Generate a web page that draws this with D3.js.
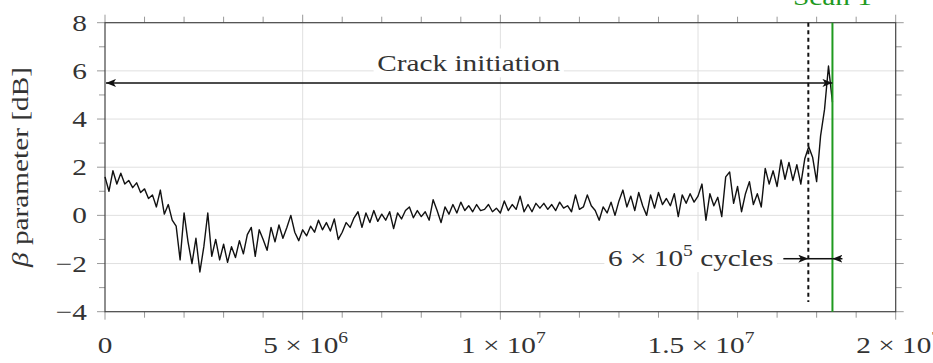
<!DOCTYPE html>
<html>
<head>
<meta charset="utf-8">
<script src="https://cdn.jsdelivr.net/npm/d3@7"></script>
<style>
  body { margin: 0; background: #fff; }
  text { font-family: "Liberation Serif", "DejaVu Serif", serif; fill: #333; }
</style>
</head>
<body>
<svg width="933" height="363"></svg>
<script>
// beta parameter [dB], one reading every 1e5 cycles from 0 to 1.84e7
const step = 1e5;
const betaValues = [
  1.6, 1.0, 1.85, 1.3, 1.75, 1.3, 1.45, 1.15, 1.35, 0.95,
  1.1, 0.7, 0.85, 0.35, 1.05, 0.05, 0.45, -0.2, -0.45, -1.85,
  0.1, -1.1, -2.0, -0.95, -2.35, -1.3, 0.1, -1.7, -1.0, -1.85,
  -1.2, -1.95, -1.3, -1.75, -1.05, -1.6, -0.8, -0.5, -1.7, -0.6,
  -1.0, -1.45, -0.5, -1.1, -0.4, -0.95, -0.5, 0.0, -0.7, -1.05,
  -0.6, -0.85, -0.45, -0.7, -0.2, -0.6, -0.3, -0.65, -0.15, -1.0,
  -0.7, -0.3, -0.5, -0.1, 0.15, -0.5, 0.1, -0.3, 0.2, -0.25,
  0.05, -0.2, 0.15, -0.55, 0.1, -0.15, 0.2, 0.35, -0.1, 0.2,
  -0.05, 0.15, -0.2, 0.65, 0.2, -0.3, 0.35, 0.05, 0.45, 0.1,
  0.55, 0.2, 0.4, 0.15, 0.45, 0.2, 0.25, 0.45, 0.15, 0.3,
  0.1, 0.6, 0.2, 0.45, 0.25, 0.8, 0.15, 0.45, 0.15, 0.5,
  0.3, 0.5, 0.25, 0.45, 0.2, 0.55, 0.3, 0.4, 0.15, 0.85,
  0.25, 0.35, 0.85, 0.4, 0.2, -0.2, 0.35, 0.1, 0.55, 0.0,
  0.6, 1.05, 0.35, 0.8, 0.2, 0.95, 0.4, 0.0, 0.85, 0.3,
  0.95, 0.45, 0.7, 0.4, 0.9, -0.05, 0.85, 0.5, 0.9, 0.55,
  0.8, 1.3, -0.2, 0.9, 0.4, 0.75, -0.05, 1.6, 1.8, 0.5,
  1.2, 0.15, 0.9, 1.4, 0.45, 0.9, 0.35, 1.95, 1.3, 1.85,
  1.2, 2.3, 1.5, 2.2, 1.45, 2.1, 1.3, 2.35, 2.85, 2.4,
  1.4, 3.3, 4.4, 6.2, 4.7
];

const xTicks = [0, 5e6, 1e7, 1.5e7, 2e7];
const xTickLabels = [["0", ""], ["5 \u00d7 10", "6"], ["1 \u00d7 10", "7"], ["1.5 \u00d7 10", "7"], ["2 \u00d7 10", "7"]];
const yTicks = [-4, -2, 0, 2, 4, 6, 8];

const initiationCycle = 1.779e7;   // dashed line
const scanCycle = 1.84e7;          // green line "Scan 1"
const crackArrowBeta = 5.5;
const cyclesArrowBeta = -1.8;

var svg = d3.select("svg");

var x = d3.scaleLinear().domain([0, 2e7]).range([105, 895.7]);
var y = d3.scaleLinear().domain([-4, 8]).range([311.7, 22.7]);

// the LaTeX font is wider than Liberation Serif, so stretch text a bit
var k = 1.22;
function stretch(ax) {
  return "translate(" + ax + ",0) scale(" + k + ",1) translate(" + (-ax) + ",0)";
}

// arrow head
svg.append("defs").append("marker")
    .attr("id", "head")
    .attr("viewBox", "0 0 10 8")
    .attr("refX", 10).attr("refY", 4)
    .attr("markerUnits", "userSpaceOnUse")
    .attr("markerWidth", 10).attr("markerHeight", 8)
    .attr("orient", "auto-start-reverse")
  .append("path")
    .attr("d", "M0,0 L10,4 L0,8 L2.5,4 z")
    .attr("fill", "#111");

// grid
svg.append("g").selectAll("line")
    .data(xTicks.slice(1, -1))
    .enter().append("line")
    .attr("x1", d => x(d)).attr("x2", d => x(d))
    .attr("y1", y(8)).attr("y2", y(-4))
    .attr("stroke", "#e0e0e0");
svg.append("g").selectAll("line")
    .data(yTicks.slice(1, -1))
    .enter().append("line")
    .attr("x1", x(0)).attr("x2", x(2e7))
    .attr("y1", d => y(d)).attr("y2", d => y(d))
    .attr("stroke", "#e0e0e0");

// outward ticks on all four sides
var minorX = d3.range(0, 21).map(d => d * 1e6);
var minorY = d3.range(-4, 9);
var tickColor = "#999";
svg.append("g").selectAll("line").data(minorX).enter().append("line")
    .attr("x1", d => x(d)).attr("x2", d => x(d))
    .attr("y1", y(-4)).attr("y2", d => y(-4) + (d % 5e6 === 0 ? 8 : 6))
    .attr("stroke", tickColor);
svg.append("g").selectAll("line").data(minorX).enter().append("line")
    .attr("x1", d => x(d)).attr("x2", d => x(d))
    .attr("y1", y(8)).attr("y2", d => y(8) - (d % 5e6 === 0 ? 8 : 6))
    .attr("stroke", tickColor);
svg.append("g").selectAll("line").data(minorY).enter().append("line")
    .attr("y1", d => y(d)).attr("y2", d => y(d))
    .attr("x1", x(0)).attr("x2", d => x(0) - (d % 2 === 0 ? 8 : 6))
    .attr("stroke", tickColor);
svg.append("g").selectAll("line").data(minorY).enter().append("line")
    .attr("y1", d => y(d)).attr("y2", d => y(d))
    .attr("x1", x(2e7)).attr("x2", d => x(2e7) + (d % 2 === 0 ? 8 : 6))
    .attr("stroke", tickColor);

// frame
svg.append("rect")
    .attr("x", x(0)).attr("y", y(8))
    .attr("width", x(2e7) - x(0)).attr("height", y(-4) - y(8))
    .attr("fill", "none").attr("stroke", "#444").attr("stroke-width", 1.2);

// tick labels
svg.append("g").selectAll("text").data(yTicks).enter().append("text")
    .attr("x", 87).attr("y", d => y(d) + 8)
    .attr("text-anchor", "end")
    .attr("transform", stretch(87))
    .style("font-size", "24px")
    .text(d => d < 0 ? "\u2212" + Math.abs(d) : d);

var xl = svg.append("g").selectAll("text").data(xTicks).enter().append("text")
    .attr("x", (d, i) => x(d) + (xTickLabels[i][1] ? 3 : 0)).attr("y", 353)
    .attr("text-anchor", "middle")
    .attr("transform", (d, i) => stretch(x(d) + (xTickLabels[i][1] ? 3 : 0)))
    .style("font-size", "24px");
xl.append("tspan").text((d, i) => xTickLabels[i][0]);
xl.append("tspan").attr("dy", -10).style("font-size", "16px").text((d, i) => xTickLabels[i][1]);

// y axis title
var yt = svg.append("text")
    .attr("transform", "translate(28,167) rotate(-90) scale(" + k + ",1)")
    .attr("text-anchor", "middle")
    .style("font-size", "24px");
yt.append("tspan").style("font-style", "italic").text("\u03b2");
yt.append("tspan").text(" parameter [dB]");

// data line
var line = d3.line()
    .x((d, i) => x(i * step))
    .y(d => y(d));
svg.append("path")
    .datum(betaValues)
    .attr("d", line)
    .attr("fill", "none")
    .attr("stroke", "#111")
    .attr("stroke-width", 1.4)
    .attr("stroke-linejoin", "round");

// dashed line at crack initiation
svg.append("line")
    .attr("x1", x(initiationCycle)).attr("x2", x(initiationCycle))
    .attr("y1", y(8)).attr("y2", y(-3.6))
    .attr("stroke", "#111").attr("stroke-width", 2)
    .attr("stroke-dasharray", "4,3.5");

// green scan line
svg.append("line")
    .attr("x1", x(scanCycle)).attr("x2", x(scanCycle))
    .attr("y1", y(8)).attr("y2", y(-4))
    .attr("stroke", "#1f9a1f").attr("stroke-width", 2);
svg.append("text")
    .attr("x", x(scanCycle)).attr("y", 5)
    .attr("text-anchor", "middle")
    .attr("transform", stretch(x(scanCycle)))
    .style("font-size", "24px").style("fill", "#1f9a1f")
    .text("Scan 1");

// crack initiation arrow
svg.append("line")
    .attr("x1", x(0) + 1).attr("x2", x(scanCycle))
    .attr("y1", y(crackArrowBeta)).attr("y2", y(crackArrowBeta))
    .attr("stroke", "#111").attr("stroke-width", 1.5)
    .attr("marker-start", "url(#head)").attr("marker-end", "url(#head)");

function labelWithBg(tx, ty, anchor, parts) {
  var g = svg.append("g").attr("transform", stretch(tx));
  var rect = g.append("rect").attr("fill", "#fff");
  var t = g.append("text").attr("x", tx).attr("y", ty)
      .attr("text-anchor", anchor).style("font-size", "24px");
  parts.forEach(p => {
    var s = t.append("tspan").text(p[0]);
    if (p[1]) s.attr("dy", p[1]).style("font-size", p[2]);
  });
  var b = t.node().getBBox();
  rect.attr("x", b.x - 3).attr("y", b.y - 1).attr("width", b.width + 6).attr("height", b.height + 2);
}

labelWithBg((x(0) + x(scanCycle)) / 2, 71, "middle", [["Crack initiation"]]);

// 6 x 10^5 cycles arrow
var ay = y(cyclesArrowBeta);
svg.append("line")
    .attr("x1", x(initiationCycle)).attr("x2", x(scanCycle))
    .attr("y1", ay).attr("y2", ay)
    .attr("stroke", "#111").attr("stroke-width", 1.5);
svg.append("line")
    .attr("x1", x(initiationCycle) - 25).attr("x2", x(initiationCycle))
    .attr("y1", ay).attr("y2", ay)
    .attr("stroke", "#111").attr("stroke-width", 1.5)
    .attr("marker-end", "url(#head)");
svg.append("line")
    .attr("x1", x(scanCycle) + 10).attr("x2", x(scanCycle))
    .attr("y1", ay).attr("y2", ay)
    .attr("stroke", "#111").attr("stroke-width", 1.5)
    .attr("marker-end", "url(#head)");

labelWithBg(x(initiationCycle) - 35, ay + 7, "end",
    [["6 \u00d7 10"], ["5", -10, "16px"], [" cycles", 10, "24px"]]);
</script>
</body>
</html>
